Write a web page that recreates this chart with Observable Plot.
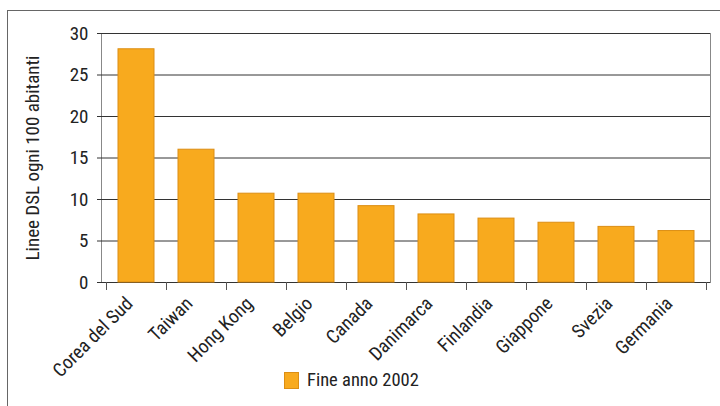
<!DOCTYPE html>
<html><head><meta charset="utf-8">
<script src="https://cdn.jsdelivr.net/npm/d3@7"></script>
<script src="https://cdn.jsdelivr.net/npm/@observablehq/plot@0.6"></script>
<style>
body{margin:0;background:#fff;font-family:"Liberation Sans Narrow","Arial Narrow","Roboto Condensed","DejaVu Sans Condensed",sans-serif;}
#wrap{position:relative;width:720px;height:406px;overflow:hidden;background:#fff;}
#frame{position:absolute;left:7px;top:10px;width:800px;height:500px;border-left:1.5px solid #666;border-top:1.5px solid #666;box-sizing:border-box;}
#chart{position:absolute;left:0;top:0;}
#legend{position:absolute;left:284px;top:369px;display:flex;align-items:center;font-size:18.5px;color:#222;}
.sw{width:13px;height:15px;background:#F8AA1E;border:1px solid #DC8E14;margin-right:8px;}
</style></head>
<body><div id="wrap"><div id="frame"></div><div id="chart"></div><div id="legend"></div></div>
<script>
const countries = ["Corea del Sud","Taiwan","Hong Kong","Belgio","Canada","Danimarca","Finlandia","Giappone","Svezia","Germania"];
const values = [28.1, 16.0, 10.7, 10.7, 9.2, 8.2, 7.7, 7.2, 6.7, 6.2];
const seriesName = "Fine anno 2002";
const yTicks = [0, 5, 10, 15, 20, 25, 30];
const yLabel = "Linee DSL ogni 100 abitanti";

const data = countries.map((c, i) => ({country: c, value: values[i]}));
const FONT = '"Liberation Sans Narrow","Arial Narrow","Roboto Condensed","DejaVu Sans Condensed",sans-serif';

// tick marks at band boundaries, computed from the band scale
const boundaryTicks = (index, scales, vals, dimensions) => {
  const x = scales.x;
  const step = x.step(), bw = x.bandwidth();
  const start = x(countries[0]) - (step - bw) / 2;
  const y0 = dimensions.height - dimensions.marginBottom;
  const g = d3.create("svg:g").attr("stroke", "#555").attr("stroke-width", 1);
  for (let i = 0; i <= countries.length; i++) {
    const xx = Math.round(start + i * step) + 0.5;
    g.append("line").attr("x1", xx).attr("x2", xx).attr("y1", y0).attr("y2", y0 + 8);
  }
  return g.node();
};

const chart = Plot.plot({
  width: 720,
  height: 360,
  marginTop: 33,
  marginLeft: 101,
  marginRight: 10,
  marginBottom: 78,
  style: {fontFamily: FONT, fontSize: "19px", color: "#222", background: "transparent", overflow: "visible"},
  x: {domain: countries, paddingInner: 0.4, paddingOuter: 0.2, label: null},
  y: {domain: [0, 30], label: null},
  marks: [
    Plot.frame({stroke: "#888"}),
    Plot.gridY(yTicks, {stroke: "#333", strokeOpacity: 1}),
    Plot.barY(data, {x: "country", y: "value", fill: "#F8AA1E", stroke: "#DC8E14", strokeWidth: 1}),
    Plot.axisY(yTicks, {tickSize: 4, tickPadding: 9, fontSize: 19, stroke: "#333", label: yLabel, labelAnchor: "center", labelOffset: 76, labelArrow: "none"}),
    Plot.axisX({tickRotate: -45, tickSize: 0, tickPadding: 18, dx: -7, fontSize: 19, label: null}),
    boundaryTicks
  ]
});
document.getElementById("chart").appendChild(chart);

const leg = document.getElementById("legend");
leg.innerHTML = '<div class="sw"></div><span></span>';
leg.querySelector("span").textContent = seriesName;
</script>
</body></html>
